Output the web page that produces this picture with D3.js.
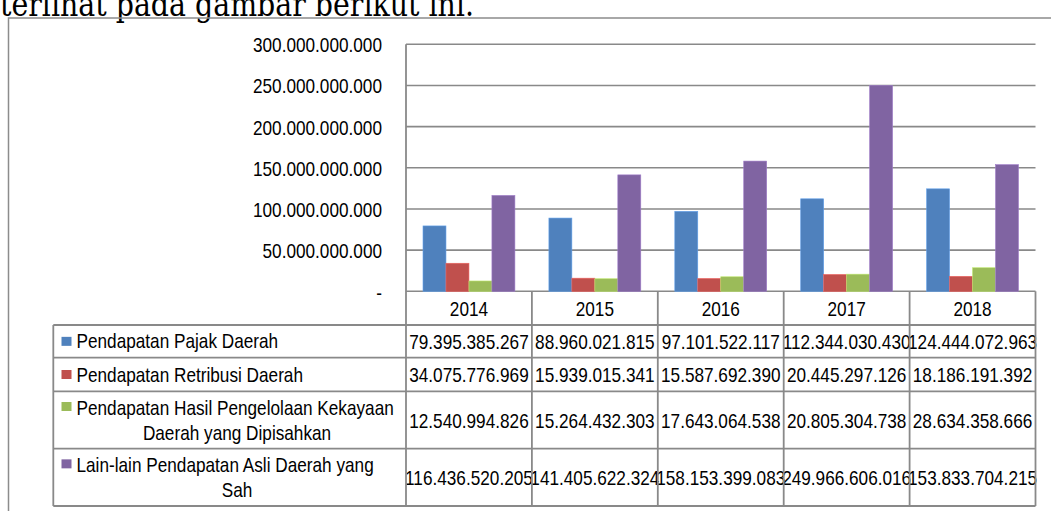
<!DOCTYPE html>
<html>
<head>
<meta charset="utf-8">
<script src="https://cdn.jsdelivr.net/npm/d3@7"></script>
<style>
  html, body { margin: 0; padding: 0; background: #fff; overflow: hidden; }
  svg { display: block; }
</style>
</head>
<body>
<svg id="chart" width="1051" height="511"></svg>
<script>
// ---------- DATA ----------
const years = ["2014", "2015", "2016", "2017", "2018"];
const seriesNames = [
  ["Pendapatan Pajak Daerah"],
  ["Pendapatan Retribusi Daerah"],
  ["Pendapatan Hasil Pengelolaan Kekayaan", "Daerah yang Dipisahkan"],
  ["Lain-lain Pendapatan Asli Daerah yang", "Sah"]
];
const pajak      = [79395385267, 88960021815, 97101522117, 112344030430, 124444072963];
const retribusi  = [34075776969, 15939015341, 15587692390, 20445297126, 18186191392];
const kekayaan   = [12540994826, 15264432303, 17643064538, 20805304738, 28634358666];
const lainLain   = [116436520205, 141405622324, 158153399083, 249966606016, 153833704215];
const seriesValues = [pajak, retribusi, kekayaan, lainLain];
const seriesColors = ["#4F81BD", "#C0504D", "#9BBB59", "#8064A2"];
const yTicks = [0, 50e9, 100e9, 150e9, 200e9, 250e9, 300e9];
const headerText = "terlihat pada gambar berikut ini.";

// ---------- SETUP ----------
const svg = d3.select("#chart");
const locale = d3.formatLocale({ decimal: ",", thousands: ".", grouping: [3], currency: ["", ""] });
const fmt = locale.format(",d");
const yLabel = v => v === 0 ? "-" : fmt(v);

const FONT = "'Liberation Sans', Arial, sans-serif";
const FS = 20, SX = 0.86;
const gridColor = "#898989";

const plotLeft = 406, plotRight = 1035.5, plotTop = 44.3, plotBottom = 291.3;
const x = d3.scaleBand().domain(years).range([plotLeft, plotRight]).padding(0);
const x1 = d3.scaleBand().domain(d3.range(seriesValues.length)).range([0, x.bandwidth()])
  .paddingInner(0).paddingOuter(0.74);
const y = d3.scaleLinear().domain([0, 300e9]).range([plotBottom, plotTop]);

function label(g, txt, tx, ty, anchor) {
  return g.append("text")
    .attr("transform", `translate(${tx},${ty}) scale(${SX},1)`)
    .attr("text-anchor", anchor || "start")
    .attr("dy", "0.35em")
    .attr("font-family", FONT)
    .attr("font-size", FS)
    .attr("fill", "#000")
    .text(txt);
}

// header text (document text above the chart, cropped at the top as in the source)
svg.append("text")
  .attr("x", 0).attr("y", 16)
  .attr("font-family", "'DejaVu Serif', 'Liberation Serif', serif")
  .attr("font-size", 33)
  .attr("textLength", 474)
  .attr("lengthAdjust", "spacingAndGlyphs")
  .attr("fill", "#000")
  .text(headerText);

// outer chart frame
svg.append("path")
  .attr("d", "M8.5,520 V18 H1060")
  .attr("fill", "none").attr("stroke", "#8c8c8c").attr("stroke-width", 1.5);

// ---------- GRID ----------
const grid = svg.append("g");
grid.selectAll("line").data(yTicks).join("line")
  .attr("x1", plotLeft).attr("x2", plotRight)
  .attr("y1", d => y(d)).attr("y2", d => y(d))
  .attr("stroke", gridColor).attr("stroke-width", 1.6);

// y labels
const yl = svg.append("g");
yTicks.forEach(t => label(yl, yLabel(t), 382, y(t) + (t === 0 ? 1.5 : 1), "end"));

// ---------- BARS ----------
const bars = svg.append("g");
seriesValues.forEach((vals, si) => {
  bars.append("g").selectAll("rect").data(vals).join("rect")
    .attr("x", (d, i) => x(years[i]) + x1(si))
    .attr("width", x1.bandwidth())
    .attr("y", d => y(d))
    .attr("height", d => y(0) - y(d))
    .attr("fill", seriesColors[si])
    .attr("stroke", d3.color(seriesColors[si]).brighter(0.6))
    .attr("stroke-width", 0.6);
});

// ---------- DATA TABLE ----------
const tableLeft = 53.3, tableBottom = 506;
const rowEdges = [325, 357.7, 391.3, 448.7, 506];
const tbl = svg.append("g");

// header row: year labels
years.forEach(yr => label(tbl, yr, x(yr) + x.bandwidth() / 2, (plotBottom + rowEdges[0]) / 2 + 0.5, "middle"));

// legend + values rows
seriesNames.forEach((lines, si) => {
  const top = rowEdges[si], bot = rowEdges[si + 1];
  const mid = (top + bot) / 2;
  if (lines.length === 1) {
    tbl.append("rect").attr("x", 61.5).attr("y", mid - 4.5).attr("width", 10).attr("height", 9)
      .attr("fill", seriesColors[si]);
    label(tbl, lines[0], 76.5, mid, "start");
  } else {
    const l1 = mid - 12.5, l2 = mid + 12.5;
    tbl.append("rect").attr("x", 61.5).attr("y", l1 - 5.5).attr("width", 10).attr("height", 9)
      .attr("fill", seriesColors[si]);
    label(tbl, lines[0], 76.5, l1, "start");
    label(tbl, lines[1], 237, l2, "middle");
  }
  seriesValues[si].forEach((v, i) => {
    label(tbl, fmt(v), x(years[i]) + x.bandwidth() / 2, mid + 0.5, "middle");
  });
});

// table lines
const lineAttr = sel => sel.attr("stroke", gridColor).attr("stroke-width", 1.8);
rowEdges.forEach(ry => {
  tbl.append("line").attr("x1", tableLeft).attr("x2", plotRight).attr("y1", ry).attr("y2", ry).call(lineAttr);
});
tbl.append("line").attr("x1", tableLeft).attr("x2", tableLeft).attr("y1", rowEdges[0]).attr("y2", tableBottom).call(lineAttr);
const vEdges = years.map(yr => x(yr)).concat([plotRight]);
vEdges.forEach((vx, i) => {
  tbl.append("line").attr("x1", vx).attr("x2", vx)
    .attr("y1", i === 0 ? plotTop : plotBottom).attr("y2", tableBottom).call(lineAttr);
});
</script>
</body>
</html>
